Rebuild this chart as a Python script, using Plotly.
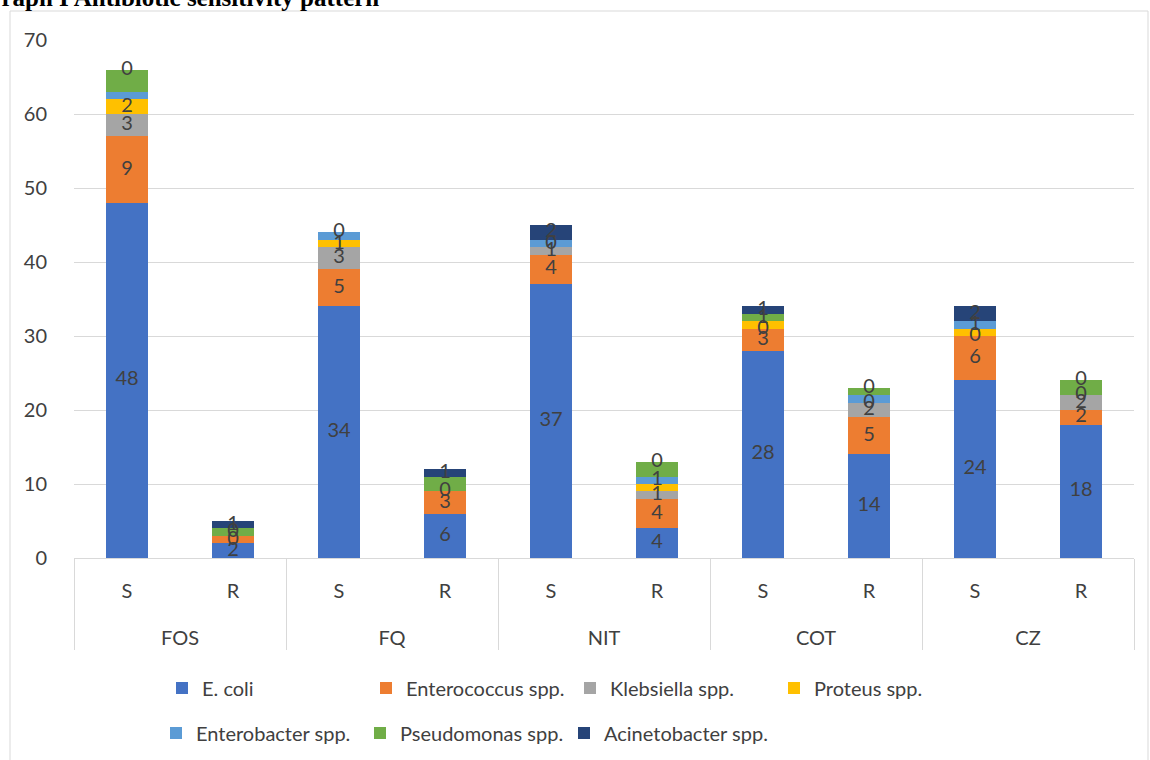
import plotly.graph_objects as go

groups = ["FOS", "FQ", "NIT", "COT", "CZ"]
sides = ["S", "R"]

series_names = ["E. coli", "Enterococcus spp.", "Klebsiella spp.", "Proteus spp.",
                "Enterobacter spp.", "Pseudomonas spp.", "Acinetobacter spp."]
colors = ["#4472C4", "#ED7D31", "#A5A5A5", "#FFC000", "#5B9BD5", "#70AD47", "#264478"]

# values per bar: FOS S, FOS R, FQ S, FQ R, NIT S, NIT R, COT S, COT R, CZ S, CZ R
ecoli = [48, 2, 34, 6, 37, 4, 28, 14, 24, 18]
enterococcus = [9, 1, 5, 3, 4, 4, 3, 5, 6, 2]
klebsiella = [3, 0, 3, 0, 1, 1, 0, 2, 0, 2]
proteus = [2, 0, 1, 0, 0, 1, 1, 0, 1, 0]
enterobacter = [1, 0, 1, 0, 1, 1, 0, 1, 1, 0]
pseudomonas = [3, 1, 0, 2, 0, 2, 1, 1, 0, 2]
acinetobacter = [0, 1, 0, 1, 2, 0, 1, 0, 2, 0]

# data labels as displayed (blank = no label shown)
ecoli_lbl = ["48", "2", "34", "6", "37", "4", "28", "14", "24", "18"]
enterococcus_lbl = ["9", "0", "5", "3", "4", "4", "3", "5", "6", "2"]
klebsiella_lbl = ["3", "", "3", "0", "1", "1", "0", "2", "0", "2"]
proteus_lbl = ["2", "", "1", "", "", "", "", "0", "", "0"]
enterobacter_lbl = ["", "", "", "", "0", "1", "", "", "1", ""]
pseudomonas_lbl = ["", "0", "", "", "", "", "1", "", "", ""]
acinetobacter_lbl = ["0", "1", "0", "1", "2", "0", "1", "0", "2", "0"]

series = [ecoli, enterococcus, klebsiella, proteus, enterobacter, pseudomonas, acinetobacter]
labels = [ecoli_lbl, enterococcus_lbl, klebsiella_lbl, proteus_lbl,
          enterobacter_lbl, pseudomonas_lbl, acinetobacter_lbl]

SPAN = "<span style='font-size:20px'>{}</span>"
# second-level labels carry a leading line break so they sit lower, as in the reference
x = [["<br>" + SPAN.format(g) for g in groups for s in sides],
     [SPAN.format(s) for g in groups for s in sides]]

FONT = "Lato"
TXT = "#404040"

fig = go.Figure()
for i, (name, vals, col) in enumerate(zip(series_names, series, colors)):
    fig.add_trace(go.Bar(x=x, y=vals, name=name, marker=dict(color=col, line=dict(width=0)),
                         legend="legend" if i < 4 else "legend2", hoverinfo="skip"))

# labels at segment centres
base = [0] * len(ecoli)
for vals, lbl in zip(series, labels):
    ys = [b + v / 2 for b, v in zip(base, vals)]
    fig.add_trace(go.Scatter(x=x, y=ys, text=lbl, mode="text", showlegend=False,
                             textposition="middle center", hoverinfo="skip",
                             textfont=dict(family=FONT, size=20, color=TXT)))
    base = [b + v for b, v in zip(base, vals)]

W, H = 1150, 760
L, R, T, B = 74, 16, 40, 202
pw, ph = W - L - R, H - T - B

def px_x(p):
    return (p - L) / pw

def px_y(p):
    return (H - B - p) / ph

fig.update_layout(
    width=W, height=H,
    margin=dict(l=L, r=R, t=T, b=B, autoexpand=False),
    barmode="stack", bargap=0.6,
    plot_bgcolor="white", paper_bgcolor="white",
    font=dict(family=FONT, size=20, color=TXT),
    xaxis=dict(type="multicategory", showgrid=False, showline=True, linecolor="#D9D9D9",
               linewidth=1, ticks="outside", ticklen=20, tickcolor="rgba(0,0,0,0)",
               ticklabelstandoff=10,
               dividercolor="#D9D9D9", dividerwidth=1, showdividers=True,
               tickfont=dict(family=FONT, size=24, color=TXT)),
    yaxis=dict(range=[0, 70], dtick=10, showgrid=True, gridcolor="#D9D9D9", gridwidth=1,
               zeroline=False, showline=False, ticks="outside", ticklen=22,
               tickcolor="rgba(0,0,0,0)", tickfont=dict(family=FONT, size=20, color=TXT)),
    legend=dict(orientation="h", x=px_x(162), xanchor="left", y=px_y(688), yanchor="middle",
                entrywidth=159, entrywidthmode="pixels", traceorder="normal",
                font=dict(family=FONT, size=20, color=TXT), bgcolor="rgba(0,0,0,0)"),
    legend2=dict(orientation="h", x=px_x(156), xanchor="left", y=px_y(733), yanchor="middle",
                 entrywidth=159, entrywidthmode="pixels", traceorder="normal",
                 font=dict(family=FONT, size=20, color=TXT), bgcolor="rgba(0,0,0,0)"),
    showlegend=True,
)

# chart border
fig.add_shape(type="rect", xref="paper", yref="paper",
              x0=px_x(10), x1=px_x(1148), y0=px_y(790), y1=px_y(11),
              line=dict(color="#D9D9D9", width=1), fillcolor="rgba(0,0,0,0)", layer="below")

fig.add_annotation(text="<b>Graph I Antibiotic sensitivity pattern</b>", xref="paper", yref="paper",
                   x=px_x(-20), y=px_y(-2), xanchor="left", yanchor="middle", showarrow=False,
                   font=dict(family="Liberation Serif", size=25, color="black"))

fig.write_html("out.html", config={"displayModeBar": False},
               post_script="document.body.style.margin='0';document.body.style.overflow='hidden';")
